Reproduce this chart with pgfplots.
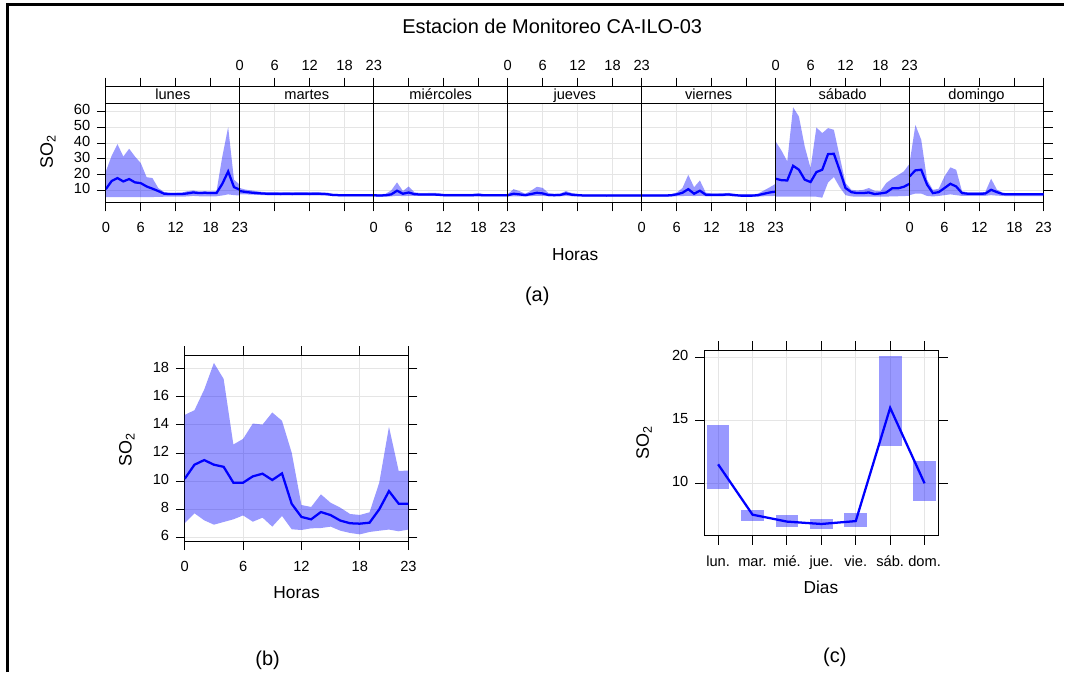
\documentclass[border=0pt]{standalone}
\usepackage{fontspec}
\setmainfont{Liberation Sans}
\usepackage{pgfplots}
\pgfplotsset{compat=1.18}
\usepackage{pgfplotstable}
\usepgfplotslibrary{fillbetween}

\definecolor{gridc}{RGB}{229,229,229}

\pgfplotstableread{
h m lo hi
0 10.8 5.8 22.0
1 16.0 5.8 32.0
2 17.8 5.8 39.3
3 15.7 5.8 31.5
4 17.2 5.8 36.4
5 15.1 5.8 31.5
6 14.6 5.8 27.3
7 12.5 5.8 18.4
8 11.1 5.8 17.8
9 9.6 5.9 11.5
10 7.9 6.0 9.0
11 7.7 6.0 8.5
12 7.7 6.0 8.5
13 7.7 6.0 8.6
14 8.1 6.2 9.5
15 8.7 6.5 10.0
16 8.3 6.3 9.3
17 8.5 6.3 9.5
18 8.3 6.3 9.3
19 8.3 6.3 9.5
20 14.2 6.8 31.5
21 22.0 7.5 50.1
22 12.1 7.0 16.8
23 10.4 6.8 13.6
}\dLun
\pgfplotstableread{
h m lo hi
0 9.6 7.5 11.5
1 9.0 7.5 10.5
2 8.6 7.3 10.0
3 8.3 7.2 9.4
4 8.0 7.0 9.0
5 7.9 6.9 8.9
6 7.9 6.9 8.9
7 7.8 6.9 8.8
8 7.9 6.9 8.9
9 7.8 6.9 8.8
10 7.9 6.9 8.9
11 7.9 6.9 8.9
12 7.8 6.9 8.8
13 7.9 6.9 8.9
14 7.8 6.9 8.8
15 7.6 6.8 8.6
16 7.1 6.4 7.8
17 7.0 6.3 7.7
18 7.0 6.3 7.7
19 7.0 6.3 7.7
20 7.0 6.3 7.7
21 7.0 6.3 7.7
22 7.0 6.3 7.7
23 7.0 6.3 7.7
}\dMar
\pgfplotstableread{
h m lo hi
0 6.9 6.1 7.6
1 6.8 6.0 7.6
2 6.9 6.0 7.8
3 7.5 6.2 10.0
4 9.8 6.6 15.1
5 7.9 6.4 9.6
6 8.7 6.5 12.5
7 7.6 6.6 8.8
8 7.4 6.6 8.3
9 7.4 6.6 8.3
10 7.4 6.6 8.5
11 7.3 6.5 8.3
12 7.0 6.3 7.8
13 7.0 6.3 7.8
14 7.0 6.3 7.8
15 7.0 6.3 7.8
16 7.0 6.3 7.8
17 7.0 6.3 7.8
18 7.1 6.2 8.3
19 6.9 6.2 7.6
20 6.9 6.2 7.6
21 6.9 6.2 7.6
22 6.9 6.2 7.6
23 6.9 6.2 7.6
}\dMie
\pgfplotstableread{
h m lo hi
0 6.9 6.2 7.6
1 7.9 6.3 10.8
2 7.5 6.3 9.6
3 7.0 6.2 7.9
4 7.7 6.4 9.8
5 8.5 6.6 12.3
6 8.1 6.5 11.6
7 7.1 6.3 8.3
8 7.0 6.3 7.8
9 7.1 6.3 8.0
10 8.1 6.5 9.6
11 7.3 6.3 8.3
12 7.0 6.3 7.8
13 6.8 6.1 7.5
14 6.8 6.1 7.5
15 6.8 6.1 7.5
16 6.8 6.1 7.5
17 6.7 6.1 7.4
18 6.8 6.1 7.5
19 6.8 6.1 7.5
20 6.8 6.1 7.5
21 6.8 6.1 7.5
22 6.8 6.1 7.5
23 6.8 6.1 7.5
}\dJue
\pgfplotstableread{
h m lo hi
0 6.8 6.1 7.5
1 6.8 6.1 7.5
2 6.8 6.1 7.5
3 6.8 6.1 7.5
4 6.8 6.1 7.5
5 6.9 6.1 7.6
6 7.5 6.3 8.6
7 8.5 6.4 11.5
8 10.8 6.6 19.9
9 7.9 6.4 12.0
10 9.8 6.6 16.3
11 7.3 6.3 8.6
12 7.2 6.3 8.0
13 7.2 6.3 8.0
14 7.3 6.3 8.2
15 7.4 6.4 8.4
16 7.0 6.2 7.8
17 6.7 6.1 7.4
18 6.7 6.1 7.4
19 6.7 6.1 7.4
20 7.0 6.1 8.0
21 7.9 6.3 10.0
22 8.7 6.4 12.0
23 9.2 6.5 14.2
}\dVie
\pgfplotstableread{
h m lo hi
0 17.4 6.0 41.0
1 16.5 6.0 35.3
2 16.3 6.0 28.4
3 25.6 6.0 62.7
4 23.1 6.0 56.8
5 16.8 6.0 37.8
6 15.3 6.0 24.1
7 21.6 6.0 49.9
8 23.1 5.4 46.3
9 33.0 15.0 49.5
10 33.2 18.5 48.4
11 22.7 12.0 31.5
12 11.5 7.0 14.7
13 8.9 6.2 10.4
14 8.3 6.0 10.0
15 8.3 6.0 10.3
16 8.7 6.0 11.5
17 7.7 6.0 9.8
18 8.1 6.0 9.5
19 8.7 6.1 14.7
20 11.3 6.2 17.4
21 11.3 6.3 19.7
22 12.3 6.4 22.0
23 14.2 6.6 26.9
}\dSab
\pgfplotstableread{
h m lo hi
0 18.9 7.0 27.3
1 22.7 8.0 51.5
2 23.1 8.0 42.1
3 13.7 6.5 16.8
4 8.3 6.2 10.4
5 8.9 6.5 11.0
6 11.5 7.0 18.9
7 14.2 7.5 24.6
8 12.5 7.0 23.1
9 8.3 6.5 9.5
10 7.9 6.5 8.8
11 7.9 6.5 8.8
12 7.9 6.5 8.8
13 8.0 6.6 9.0
14 10.4 7.0 17.4
15 8.9 6.7 10.5
16 7.7 6.5 8.5
17 7.5 6.4 8.2
18 7.5 6.4 8.2
19 7.5 6.4 8.2
20 7.5 6.4 8.2
21 7.5 6.4 8.2
22 7.5 6.4 8.2
23 7.5 6.4 8.2
}\dDom
\pgfplotstableread{
h m lo hi
0 10.17 7.00 14.72
1 11.17 7.71 15.05
2 11.50 7.21 16.52
3 11.17 6.90 18.42
4 11.02 7.09 17.28
5 9.89 7.28 12.61
6 9.89 7.56 13.01
7 10.34 7.11 14.10
8 10.53 7.40 14.03
9 10.08 6.76 14.89
10 10.55 7.52 14.30
11 8.38 6.57 12.02
12 7.45 6.52 8.30
13 7.28 6.64 8.16
14 7.80 6.66 9.06
15 7.58 6.76 8.46
16 7.19 6.47 8.11
17 7.00 6.31 7.66
18 6.97 6.21 7.59
19 7.04 6.38 7.78
20 7.99 6.47 9.89
21 9.29 6.55 13.87
22 8.39 6.43 10.72
23 8.39 6.55 10.76
}\dHour

\pgfplotsset{
  lat/.style={
    scale only axis,
    axis line style={line width=0.75pt},
    every tick/.style={line width=0.75pt, black},
    major tick length=6.75pt,
    tick align=outside,
    grid=major,
    major grid style={gridc, line width=0.75pt},
    tick label style={font=\fontsize{11}{13}\selectfont},
    typeset ticklabels with strut,
    xticklabel style={yshift=-3.5pt},
    yticklabel style={xshift=-1.5pt},
    /pgf/number format/assume math mode=true,
  }
}

\newcommand\dayplot[2]{%
  \addplot[name path=u#2, draw=none, forget plot] table[x expr=\thisrow{h}+#2, y=hi]{#1};
  \addplot[name path=l#2, draw=none, forget plot] table[x expr=\thisrow{h}+#2, y=lo]{#1};
  \addplot[fill=blue, fill opacity=0.4, draw=none, forget plot] fill between[of=u#2 and l#2];
  \addplot[blue, line width=1.7pt, forget plot] table[x expr=\thisrow{h}+#2, y=m]{#1};
}

\begin{document}
\begin{tikzpicture}
\path (0,0) rectangle (798.75pt,504.75pt);
\draw[line width=2.25pt] (6pt,0) -- (6pt,501pt) -- (798.75pt,501pt);

% ---------- panel (a) ----------
\begin{axis}[lat, at={(79.5pt,352.725pt)}, anchor=south west,
  width=704.25pt, height=74.55pt,
  xmin=0, xmax=161, ymin=2.4, ymax=65.3,
  xtick={0,6,12,18,23,29,35,41,46,52,58,64,69,75,81,87,92,98,104,110,115,121,127,133,138,144,150,156,161},
  xticklabels={0,6,12,18,23,{},{},{},0,6,12,18,23,{},{},{},0,6,12,18,23,{},{},{},0,6,12,18,23},
  xtick pos=bottom, ytick pos=both,
  ytick={10,20,30,40,50,60}]
\dayplot{\dLun}{0}
\dayplot{\dMar}{23}
\dayplot{\dMie}{46}
\dayplot{\dJue}{69}
\dayplot{\dVie}{92}
\dayplot{\dSab}{115}
\dayplot{\dDom}{138}
\end{axis}

\begin{axis}[lat, at={(79.5pt,352.725pt)}, anchor=south west,
  width=704.25pt, height=87pt, clip=false,
  xmin=0, xmax=161, ymin=0, ymax=116,
  axis x line*=top, axis y line=none, grid=none,
  xticklabel style={yshift=1.5pt},
  xtick={0,6,12,18,23,29,35,41,46,52,58,64,69,75,81,87,92,98,104,110,115,121,127,133,138,144,150,156,161},
  xticklabels={{},{},{},{},0,6,12,18,23,{},{},{},0,6,12,18,23,{},{},{},0,6,12,18,23,{},{},{},{}}]
\addplot[draw=none, forget plot] coordinates {(0,0) (161,116)};
\draw[line width=0.75pt] (axis cs:0,99.4) rectangle (axis cs:161,116);
\draw[line width=0.9pt] (axis cs:23,0) -- (axis cs:23,116);
\draw[line width=0.9pt] (axis cs:46,0) -- (axis cs:46,116);
\draw[line width=0.9pt] (axis cs:69,0) -- (axis cs:69,116);
\draw[line width=0.9pt] (axis cs:92,0) -- (axis cs:92,116);
\draw[line width=0.9pt] (axis cs:115,0) -- (axis cs:115,116);
\draw[line width=0.9pt] (axis cs:138,0) -- (axis cs:138,116);
\begin{scope}[every node/.style={anchor=base, font=\fontsize{11}{13}\selectfont, inner sep=0pt}]
\node at (axis cs:11.5,102.7) {lunes};
\node at (axis cs:34.5,102.7) {martes};
\node at (axis cs:57.5,102.7) {miércoles};
\node at (axis cs:80.5,102.7) {jueves};
\node at (axis cs:103.5,102.7) {viernes};
\node at (axis cs:126.5,102.7) {sábado};
\node at (axis cs:149.5,102.7) {domingo};
\end{scope}
\end{axis}

\node[font=\fontsize{15}{18}\selectfont] at (414.75pt,485.25pt) {Estacion de Monitoreo CA-ILO-03};
\node[rotate=90, font=\fontsize{13.5}{16}\selectfont] at (36pt,390.75pt) {SO\textsubscript{2}};
\node[font=\fontsize{13}{16}\selectfont] at (432pt,313.5pt) {Horas};
\node[font=\fontsize{15}{18}\selectfont] at (403.5pt,282pt) {(a)};

% ---------- panel (b) ----------
\begin{axis}[lat, at={(138.75pt,98.25pt)}, anchor=south west,
  width=168pt, height=139.725pt,
  xmin=0, xmax=23, ymin=5.72, ymax=18.97,
  xtick={0,6,12,18,23}, ytick={6,8,10,12,14,16,18}]
\addplot[name path=ub, draw=none, forget plot] table[x=h, y=hi]{\dHour};
\addplot[name path=lb, draw=none, forget plot] table[x=h, y=lo]{\dHour};
\addplot[fill=blue, fill opacity=0.4, draw=none] fill between[of=ub and lb];
\addplot[blue, line width=1.7pt] table[x=h, y=m]{\dHour};
\end{axis}
\node[rotate=90, font=\fontsize{13.5}{16}\selectfont] at (95.25pt,167.25pt) {SO\textsubscript{2}};
\node[font=\fontsize{13}{16}\selectfont] at (222.75pt,60pt) {Horas};
\node[font=\fontsize{15}{18}\selectfont] at (201pt,9pt) {(b)};

% ---------- panel (c) ----------
\begin{axis}[lat, at={(528.75pt,102.225pt)}, anchor=south west,
  width=176.25pt, height=139.5pt,
  xmin=0.59, xmax=7.41, ymin=5.82, ymax=20.58,
  xtick={1,2,3,4,5,6,7},
  xticklabels={lun.,mar.,mié.,jue.,vie.,sáb.,dom.},
  ytick={10,15,20}]
\addplot[fill=blue, fill opacity=0.4, draw=none] coordinates {(0.67,9.55) (1.33,9.55) (1.33,14.6) (0.67,14.6)} -- cycle;
\addplot[fill=blue, fill opacity=0.4, draw=none] coordinates {(1.67,7.01) (2.33,7.01) (2.33,7.86) (1.67,7.86)} -- cycle;
\addplot[fill=blue, fill opacity=0.4, draw=none] coordinates {(2.67,6.53) (3.33,6.53) (3.33,7.46) (2.67,7.46)} -- cycle;
\addplot[fill=blue, fill opacity=0.4, draw=none] coordinates {(3.67,6.38) (4.33,6.38) (4.33,7.14) (3.67,7.14)} -- cycle;
\addplot[fill=blue, fill opacity=0.4, draw=none] coordinates {(4.67,6.53) (5.33,6.53) (5.33,7.67) (4.67,7.67)} -- cycle;
\addplot[fill=blue, fill opacity=0.4, draw=none] coordinates {(5.67,12.96) (6.33,12.96) (6.33,20.08) (5.67,20.08)} -- cycle;
\addplot[fill=blue, fill opacity=0.4, draw=none] coordinates {(6.67,8.57) (7.33,8.57) (7.33,11.75) (6.67,11.75)} -- cycle;
\addplot[blue, line width=1.7pt] coordinates {(1,11.51) (2,7.51) (3,6.96) (4,6.77) (5,7.0) (6,16.0) (7,10.0)};
\end{axis}
\node[rotate=90, font=\fontsize{13.5}{16}\selectfont] at (483.75pt,172.5pt) {SO\textsubscript{2}};
\node[font=\fontsize{13}{16}\selectfont] at (616.5pt,63.75pt) {Dias};
\node[font=\fontsize{15}{18}\selectfont] at (627pt,11.25pt) {(c)};
\end{tikzpicture}
\end{document}
